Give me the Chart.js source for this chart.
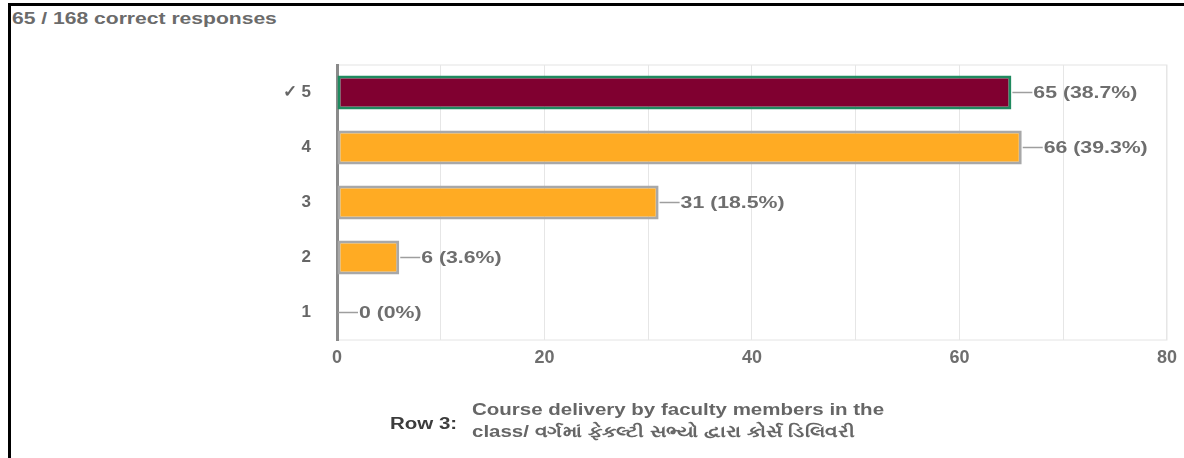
<!DOCTYPE html>
<html>
<head>
<meta charset="utf-8">
<script src="https://cdn.jsdelivr.net/npm/chart.js@4"></script>
<style>
  body { margin: 0; background: #fff; font-family: "Liberation Sans", Arial, sans-serif; }
  #frame { position: absolute; left: 8px; top: 3px; width: 1176px; height: 455px;
           border-top: 3px solid #000; border-left: 3px solid #000; }
  .wide { position: absolute; transform-origin: 0 0; white-space: nowrap; font-weight: bold; }
  #title { left: 12px; top: 9px; font-size: 17px; color: #6b6b6b; transform: scaleX(1.24); }
  #rowLbl { left: 390px; top: 415px; font-size: 16px; color: #3c3c3c; transform: scaleX(1.28); }
  #rowTxt { left: 472px; top: 399px; font-size: 16px; color: #666; line-height: 22px; transform: scaleX(1.28); }
  #wrap { position: absolute; left: 0; top: 0; width: 1184px; height: 458px; }
</style>
</head>
<body>
<div id="frame"></div>
<div id="title" class="wide">65 / 168 correct responses</div>
<div id="wrap"><canvas id="chart"></canvas></div>
<div id="rowLbl" class="wide">Row 3:</div>
<div id="rowTxt" class="wide">Course delivery by faculty members in the<br>class/ વર્ગમાં ફેકલ્ટી સભ્યો દ્વારા કોર્સ ડિલિવરી</div>
<script>
let kategorii = ['5', '4', '3', '2', '1'];
let vidpovidi = [65, 66, 31, 6, 0];
let vidsotky = ['38.7%', '39.3%', '18.5%', '3.6%', '0%'];
let xTicks = [0, 20, 40, 60, 80];

let zalyvka = ['#800030', '#ffab23', '#ffab23', '#ffab23', '#ffab23'];
let ramka = ['#1f8a5f', '#a8a8a8', '#a8a8a8', '#a8a8a8', '#a8a8a8'];

// labels at the end of each bar with a short connector line
const pidpysy = {
  id: 'pidpysy',
  beforeDraw(chart) {
    const a = chart.chartArea, ctx = chart.ctx;
    ctx.save();
    ctx.strokeStyle = '#e4e4e4';
    ctx.lineWidth = 1;
    ctx.strokeRect(a.left, a.top, a.right - a.left, a.bottom - a.top);
    ctx.restore();
  },
  afterDatasetsDraw(chart) {
    const ctx = chart.ctx;
    const meta = chart.getDatasetMeta(0);
    meta.data.forEach((bar, i) => {
      const x0 = bar.x + 1;
      ctx.save();
      ctx.strokeStyle = '#9e9e9e';
      ctx.lineWidth = 1.5;
      ctx.beginPath();
      ctx.moveTo(x0, bar.y);
      ctx.lineTo(x0 + 20, bar.y);
      ctx.stroke();
      ctx.fillStyle = '#6e6e6e';
      ctx.font = 'bold 17px "Liberation Sans", Arial, sans-serif';
      ctx.textBaseline = 'middle';
      ctx.translate(x0 + 21, bar.y + 1);
      ctx.scale(1.25, 1);
      ctx.fillText(vidpovidi[i] + ' (' + vidsotky[i] + ')', 0, 0);
      ctx.restore();
    });
  }
};

new Chart('chart', {
  type: 'bar',
  data: {
    labels: kategorii,
    datasets: [{
      data: vidpovidi,
      backgroundColor: zalyvka,
      borderColor: ramka,
      borderWidth: 3,
      borderSkipped: false,
      categoryPercentage: 1,
      barPercentage: 0.62
    }]
  },
  options: {
    indexAxis: 'y',
    responsive: true,
    maintainAspectRatio: false,
    animation: false,
    layout: { padding: { top: 65, right: 12, left: 0, bottom: 0 } },
    plugins: { legend: { display: false }, tooltip: { enabled: false } },
    scales: {
      x: {
        min: 0,
        max: 80,
        ticks: {
          stepSize: 10,
          color: '#6e6e6e',
          font: { family: '"Liberation Sans", Arial, sans-serif', size: 18, weight: 'bold' },
          padding: 7,
          maxRotation: 0,
          callback: v => xTicks.includes(v) ? v : ''
        },
        grid: { color: '#e6e6e6', drawTicks: false },
        border: { display: false },
        afterFit: s => { s.height = 118; }
      },
      y: {
        ticks: {
          color: '#666',
          font: { family: '"Liberation Sans", Arial, sans-serif', size: 17, weight: 'bold' },
          padding: 18,
          callback: (v, i) => i === 0 ? '\u2713 ' + kategorii[i] : kategorii[i]
        },
        grid: { display: false },
        border: { color: '#8a8a8a', width: 3 },
        afterFit: s => { s.width = 337; }
      }
    }
  },
  plugins: [pidpysy]
});
</script>
</body>
</html>
